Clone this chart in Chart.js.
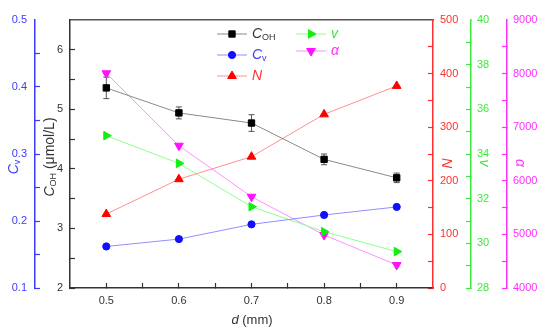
<!DOCTYPE html>
<html>
<head>
<meta charset="utf-8">
<script src="https://cdn.jsdelivr.net/npm/chart.js@4.4.0/dist/chart.umd.min.js"></script>
<style>
  body { margin: 0; background: #fff; }
  #wrap { width: 550px; height: 334px; }
</style>
</head>
<body>
<div id="wrap"><canvas id="chart" width="550" height="334"></canvas></div>
<script>
// nozzle diameter d (mm)
const diameters = [0.5, 0.6, 0.7, 0.8, 0.9];
const cOH = [5.36, 4.94, 4.77, 4.16, 3.85];
const cOHErr = [0.18, 0.10, 0.14, 0.09, 0.08];
const cv = [0.162, 0.173, 0.195, 0.209, 0.221];
const nVals = [138, 203, 245, 324, 377];
const vVals = [34.82, 33.58, 31.64, 30.52, 29.63];
const alphaVals = [8006, 6655, 5703, 4989, 4429];

const FONT = "'Liberation Sans', Arial, sans-serif";
const DARK = '#333333';
const BLUE = '#3b3bff';
const RED = '#ff2f2f';
const GREEN = '#3de83d';
const MAG = '#ff30ff';

const pts = vals => diameters.map((d, i) => ({x: d, y: vals[i]}));

function drawParts(ctx, parts, x, y, angle, align) {
	ctx.save();
	ctx.translate(x, y);
	ctx.rotate(angle || 0);
	let total = 0;
	parts.forEach(p => {
		ctx.font = p.font;
		p.w = ctx.measureText(p.t).width;
		total += p.w;
	});
	let cx = align === 'left' ? 0 : -total / 2;
	ctx.textBaseline = 'middle';
	ctx.textAlign = 'left';
	parts.forEach(p => {
		ctx.font = p.font;
		ctx.fillStyle = p.color;
		ctx.fillText(p.t, cx, p.dy || 0);
		cx += p.w;
	});
	ctx.restore();
}

const it = s => `italic ${s}px ${FONT}`;
const rg = s => `${s}px ${FONT}`;

const errorBars = {
	id: 'errorBars',
	beforeDatasetsDraw(chart) {
		const ctx = chart.ctx;
		const x = chart.scales.x, y = chart.scales.yC;
		ctx.save();
		ctx.strokeStyle = '#555';
		ctx.lineWidth = 1;
		diameters.forEach((d, i) => {
			const px = x.getPixelForValue(d);
			const top = y.getPixelForValue(cOH[i] + cOHErr[i]);
			const bot = y.getPixelForValue(cOH[i] - cOHErr[i]);
			ctx.beginPath();
			ctx.moveTo(px, top); ctx.lineTo(px, bot);
			ctx.moveTo(px - 3, top); ctx.lineTo(px + 3, top);
			ctx.moveTo(px - 3, bot); ctx.lineTo(px + 3, bot);
			ctx.stroke();
		});
		ctx.restore();
	}
};

const titlesAndLegend = {
	id: 'titlesAndLegend',
	afterDraw(chart) {
		const ctx = chart.ctx;
		const up = -Math.PI / 2, down = Math.PI / 2;
		drawParts(ctx, [{t: 'C', font: it(14), color: BLUE}, {t: 'v', font: rg(9), color: BLUE, dy: 4}], 14, 167, up);
		drawParts(ctx, [{t: 'C', font: it(14), color: DARK}, {t: 'OH', font: rg(9), color: DARK, dy: 4},
			{t: ' (μmol/L)', font: rg(14), color: DARK}], 50, 157, up);
		drawParts(ctx, [{t: 'N', font: it(14), color: RED}], 446, 163, down);
		drawParts(ctx, [{t: 'v', font: it(14), color: GREEN}], 484, 163, down);
		drawParts(ctx, [{t: 'α', font: it(14), color: MAG}], 520, 163, down);
		drawParts(ctx, [{t: 'd', font: it(13), color: DARK}, {t: ' (mm)', font: rg(13), color: DARK}], 252, 320, 0);

		const items = [
			{x: 217, y: 34, ds: 0, parts: [{t: 'C', font: it(14), color: DARK}, {t: 'OH', font: rg(9), color: DARK, dy: 4}]},
			{x: 217, y: 55, ds: 1, parts: [{t: 'C', font: it(14), color: BLUE}, {t: 'v', font: rg(9), color: BLUE, dy: 4}]},
			{x: 217, y: 76, ds: 2, parts: [{t: 'N', font: it(14), color: RED}]},
			{x: 296, y: 34, ds: 3, parts: [{t: 'v', font: it(14), color: GREEN}]},
			{x: 296, y: 51, ds: 4, parts: [{t: 'α', font: it(14), color: MAG}]}
		];
		items.forEach(item => {
			const ds = chart.data.datasets[item.ds];
			ctx.save();
			ctx.strokeStyle = ds.borderColor;
			ctx.lineWidth = 1;
			ctx.beginPath();
			ctx.moveTo(item.x, item.y); ctx.lineTo(item.x + 30, item.y);
			ctx.stroke();
			ctx.fillStyle = ds.pointBackgroundColor;
			ctx.strokeStyle = ds.pointBorderColor;
			Chart.helpers.drawPoint(ctx, {pointStyle: ds.pointStyle, rotation: ds.pointRotation || 0,
				radius: ds.pointRadius, borderWidth: 1}, item.x + 15, item.y);
			ctx.restore();
			drawParts(ctx, item.parts, item.x + 35, item.y, 0, 'left');
		});
	}
};

function sideAxis(pos, color, min, max, step, width, padding, weight, label) {
	return {
		type: 'linear', position: pos, min, max, weight,
		afterFit: s => { s.width = width; },
		border: {color, width: 1.5},
		grid: {drawOnChartArea: false, tickLength: -5, tickWidth: 1.2,
			tickColor: c => (c.tick && (c.tick.value >= max - 1e-9)) ? 'rgba(0,0,0,0)' : color},
		ticks: {stepSize: step, padding, color, autoSkip: false, includeBounds: false,
			font: {family: FONT, size: 11}, callback: label}
	};
}

new Chart(document.getElementById('chart'), {
	type: 'line',
	data: {
		datasets: [{
			label: 'C_OH', data: pts(cOH), yAxisID: 'yC',
			borderColor: '#8a8a8a', borderWidth: 1,
			pointStyle: 'rect', pointRadius: 4.5, pointBackgroundColor: '#000', pointBorderColor: '#000'
		}, {
			label: 'C_v', data: pts(cv), yAxisID: 'yCv',
			borderColor: '#8f8fff', borderWidth: 1,
			pointStyle: 'circle', pointRadius: 3.6, pointBackgroundColor: '#1010ff', pointBorderColor: '#1010ff'
		}, {
			label: 'N', data: pts(nVals), yAxisID: 'yN',
			borderColor: '#ff8f8f', borderWidth: 1,
			pointStyle: 'triangle', pointRadius: 5, pointBackgroundColor: '#ff0000', pointBorderColor: '#ff0000'
		}, {
			label: 'v', data: pts(vVals), yAxisID: 'yV',
			borderColor: '#8fff8f', borderWidth: 1,
			pointStyle: 'triangle', pointRotation: 90, pointRadius: 5, pointBackgroundColor: '#11ee11', pointBorderColor: '#11ee11'
		}, {
			label: 'α', data: pts(alphaVals), yAxisID: 'yA',
			borderColor: '#ff8fff', borderWidth: 1,
			pointStyle: 'triangle', pointRotation: 180, pointRadius: 5, pointBackgroundColor: '#ff11ff', pointBorderColor: '#ff11ff'
		}]
	},
	options: {
		responsive: false,
		animation: false,
		layout: {padding: 0},
		plugins: {legend: {display: false}, tooltip: {enabled: false}},
		scales: {
			x: {
				type: 'linear', position: 'bottom', min: 0.45, max: 0.95,
				afterFit: s => { s.height = 46; },
				border: {color: DARK, width: 1.5},
				grid: {drawOnChartArea: false, tickLength: -5, tickWidth: 1.2,
					tickColor: c => (c.tick && (c.tick.value < 0.46 || c.tick.value > 0.94)) ? 'rgba(0,0,0,0)' : DARK},
				ticks: {stepSize: 0.05, padding: 11, color: DARK, autoSkip: false, maxRotation: 0,
					font: {family: FONT, size: 11},
					callback: v => {
						const r = Math.round(v * 100);
						return (r % 10 === 0 && r >= 50 && r <= 90) ? (r / 100).toFixed(1) : '';
					}}
			},
			xTop: {
				type: 'linear', position: 'top', min: 0, max: 1,
				afterFit: s => { s.height = 20; },
				border: {color: '#555', width: 1.5},
				grid: {display: false},
				ticks: {display: false}
			},
			yCv: sideAxis('left', BLUE, 0.1, 0.5, 0.05, 35, 13, 2,
				v => { const r = Math.round(v * 100); return r % 10 === 0 ? (r / 100).toFixed(1) : ''; }),
			yC: sideAxis('left', DARK, 2, 6.5, 0.5, 35, 12, 1,
				v => Math.abs(v - Math.round(v)) < 1e-6 ? String(Math.round(v)) : ''),
			yN: sideAxis('right', RED, 0, 500, 50, 38, 12, 1,
				v => Math.round(v) % 100 === 0 ? String(Math.round(v)) : ''),
			yV: sideAxis('right', GREEN, 28, 40, 1, 36, 11, 2,
				v => Math.round(v) % 2 === 0 ? String(Math.round(v)) : ''),
			yA: sideAxis('right', MAG, 4000, 9000, 500, 43, 11, 3,
				v => Math.round(v) % 1000 === 0 ? String(Math.round(v)) : '')
		}
	},
	plugins: [errorBars, titlesAndLegend]
});
</script>
</body>
</html>
